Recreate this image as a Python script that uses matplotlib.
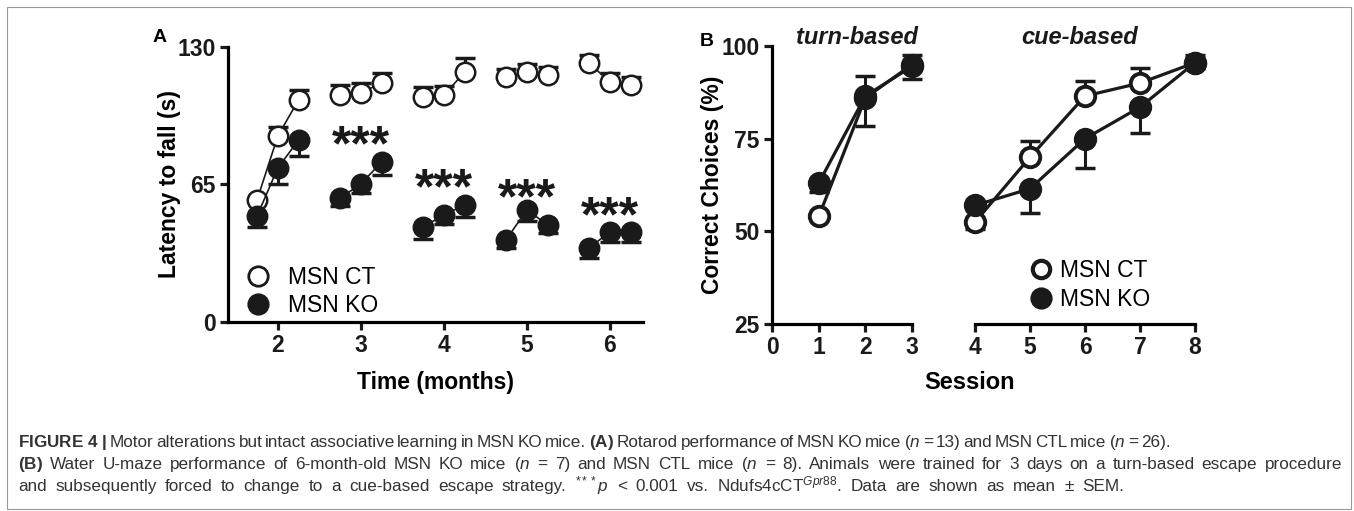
import numpy as np
import matplotlib
matplotlib.use('Agg')
import matplotlib.pyplot as plt
from matplotlib.lines import Line2D

plt.rcParams['font.family'] = ['Liberation Sans', 'DejaVu Sans']
plt.rcParams['mathtext.fontset'] = 'custom'
plt.rcParams['mathtext.rm'] = 'Liberation Sans'
plt.rcParams['mathtext.bf'] = 'Liberation Sans:bold'
plt.rcParams['mathtext.it'] = 'Liberation Sans:italic'

# panel A: rotarod, three trials per month
months = [2, 3, 4, 5, 6]
ct_lat = [[57.7, 87.9, 105], [107.3, 108.3, 113], [106.4, 107.3, 118],
          [115.8, 118, 116.8], [122.4, 113.5, 112]]
ct_err = [[1, 4.4, 4.7], [4.7, 4.7, 4.7], [4.5, 4.5, 7],
          [3.8, 3.8, 3.8], [4, 4, 4]]
ko_lat = [[50.1, 72.8, 86], [58.6, 65.2, 75.6], [44.9, 50.6, 55.3],
          [38.8, 53, 45.9], [35, 42.5, 42.5]]
ko_err = [[5, 7.4, 7.5], [4, 4.4, 6.3], [5.5, 4.5, 5.5],
          [4, 5.5, 4], [4.7, 4.7, 4.7]]
star_y = [None, 87.5, 67, 62.4, 54]
trial_offset = [-0.25, 0, 0.25]

# panel B: water U-maze
turn_sess = [1, 2, 3]
ct_turn = [54, 86, 95]
ct_turn_err = [1, 6, 2.5]
ko_turn = [63, 86.5, 94.5]
ko_turn_err = [2.5, 8, 3.5]
cue_sess = [4, 5, 6, 7, 8]
ct_cue = [52.5, 70, 86.5, 90, 95.5]
ct_cue_err = [1, 4.5, 4, 4, 2]
ko_cue = [57, 61.5, 75, 83.5, 95.5]
ko_cue_err = [6.5, 6.5, 8, 7, 1.5]

K = '#1a1a1a'
SP = 2.3
FS = 16.5
W, H = 1354, 511

fig = plt.figure(figsize=(W / 100, H / 100), dpi=100)


def style_axes(ax, left=True):
    for s in ['top', 'right']:
        ax.spines[s].set_visible(False)
    ax.spines['bottom'].set_linewidth(SP)
    ax.spines['left'].set_linewidth(SP)
    ax.spines['left'].set_visible(left)
    ax.tick_params(width=SP, length=6, labelsize=FS, colors=K, pad=3)
    for lab in ax.get_xticklabels() + ax.get_yticklabels():
        lab.set_fontweight('bold')


def draw(ax, x, y, err, open_marker, lw, ms, mew):
    x = np.asarray(x, float)
    y = np.asarray(y, float)
    e = np.asarray(err, float)
    z = np.zeros_like(e)
    yerr = [z, e] if open_marker else [e, z]
    ax.errorbar(x, y, yerr=yerr, fmt='none', ecolor=K, elinewidth=2.2,
                capsize=7, capthick=2.5, clip_on=False, zorder=2)
    ax.plot(x, y, color=K, lw=lw, marker='o', ms=ms, mew=mew, mec=K,
            mfc='white' if open_marker else K, clip_on=False,
            zorder=3 if open_marker else 4)


# ---- panel A
axA = fig.add_axes([0.1684, 0.370, 0.3065, 0.538])
for i, m in enumerate(months):
    xs = [m + o for o in trial_offset]
    draw(axA, xs, ct_lat[i], ct_err[i], True, 1.2, 14, 1.8)
    draw(axA, xs, ko_lat[i], ko_err[i], False, 1.2, 14, 1.8)
    if star_y[i] is not None:
        axA.annotate('***', (m, star_y[i]), xytext=(0, -7.5), textcoords='offset points',
                     ha='center', va='center', fontsize=36, fontweight='bold', color=K)
axA.set_xlim(1.4, 6.4)
axA.set_ylim(0, 130)
axA.set_xticks(months)
axA.set_yticks([0, 65, 130])
style_axes(axA)
axA.set_xlabel('Time (months)', fontsize=FS, fontweight='bold', labelpad=9.5)
axA.set_ylabel('Latency to fall (s)', fontsize=FS, fontweight='bold', labelpad=-3)
hA = [Line2D([], [], ls='none', marker='o', ms=14, mew=2, mec=K, mfc='white'),
      Line2D([], [], ls='none', marker='o', ms=14, mew=2, mec=K, mfc=K)]
axA.legend(hA, ['MSN CT', 'MSN KO'], loc='lower left', bbox_to_anchor=(-0.004, -0.058),
           frameon=False, fontsize=FS, handletextpad=0.8, labelspacing=0.25,
           handlelength=1.0)

# ---- panel B, broken axis
axB1 = fig.add_axes([0.5702, 0.366, 0.1034, 0.544])
axB2 = fig.add_axes([0.7201, 0.366, 0.1625, 0.544])
draw(axB1, turn_sess, ct_turn, ct_turn_err, True, 2.3, 14, 2.8)
draw(axB1, turn_sess, ko_turn, ko_turn_err, False, 2.3, 14, 2.8)
draw(axB2, cue_sess, ct_cue, ct_cue_err, True, 2.3, 14, 2.8)
draw(axB2, cue_sess, ko_cue, ko_cue_err, False, 2.3, 14, 2.8)
axB1.set_xlim(0, 3)
axB1.set_xticks([0, 1, 2, 3])
axB2.set_xlim(4, 8)
axB2.set_xticks(cue_sess)
for ax in (axB1, axB2):
    ax.set_ylim(25, 100)
axB1.set_yticks([25, 50, 75, 100])
axB2.set_yticks([])
style_axes(axB1)
style_axes(axB2, left=False)
axB1.set_ylabel('Correct Choices (%)', fontsize=FS, fontweight='bold', labelpad=-2)
fig.text(857 / W, 1 - 44 / H, 'turn-based', fontsize=17, fontweight='bold',
         style='italic', ha='center', va='baseline', color=K)
fig.text(1080 / W, 1 - 44 / H, 'cue-based', fontsize=17, fontweight='bold',
         style='italic', ha='center', va='baseline', color=K)
fig.text(0.716, 0.252, 'Session', fontsize=FS + 0.5, fontweight='bold', ha='center', va='center')
hB = [Line2D([], [], ls='none', marker='o', ms=12.5, mew=3, mec=K, mfc='white'),
      Line2D([], [], ls='none', marker='o', ms=14, mew=2, mec=K, mfc=K)]
axB2.legend(hB, ['MSN CT', 'MSN KO'], loc='lower left', bbox_to_anchor=(0.156, -0.029),
            frameon=False, fontsize=FS, handletextpad=0.3, labelspacing=0.3,
            handlelength=1.0)

fig.text(0.113, 0.918, 'A', fontsize=14, fontweight='bold')
fig.text(0.517, 0.910, 'B', fontsize=14, fontweight='bold')


# ---- caption
def b(s):
    return r'$\mathbf{' + s.replace(' ', r'\ ') + '}$'


def it(s):
    return r'$\mathit{' + s + '}$'


n_ = '(' + it('n')
cap1 = ([b('FIGURE 4 |')]
        + 'Motor alterations but intact associative learning in MSN KO mice.'.split()
        + [b('(A)')] + 'Rotarod performance of MSN KO mice'.split()
        + [n_, '=', '13)', 'and', 'MSN', 'CTL', 'mice', n_, '=', '26).'])
cap2 = ([b('(B)')] + 'Water U-maze performance of 6-month-old MSN KO mice'.split()
        + [n_, '=', '7)', 'and', 'MSN', 'CTL', 'mice', n_, '=', '8).']
        + 'Animals were trained for 3 days on a turn-based escape procedure'.split())
cap3 = ('and subsequently forced to change to a cue-based escape strategy.'.split()
        + [r'$^{***}$' + it('p'), '<', '0.001', 'vs.', r'Ndufs4cCT$^{\mathit{Gpr88}}$.']
        + 'Data are shown as mean \u00b1 SEM.'.split())

CFS = 12.3
renderer = fig.canvas.get_renderer()


def caption_line(tokens, baseline, x0, x1):
    arts = [fig.text(x0 / W, 1 - baseline / H, t, fontsize=CFS, color='#333333',
                     va='baseline') for t in tokens]
    widths = [a.get_window_extent(renderer).width for a in arts]
    gap = (x1 - x0 - sum(widths)) / (len(arts) - 1)
    x = x0
    for a, w in zip(arts, widths):
        a.set_x(x / W)
        x += w + gap


caption_line(cap1, 447, 18, 1171)
caption_line(cap2, 469, 18, 1342)
caption_line(cap3, 491, 18, 1124)

fig.add_artist(plt.Rectangle((0.0055, 0.004), 0.9925, 0.983, transform=fig.transFigure,
                             fill=False, ec='#999999', lw=0.8))

fig.savefig('out.png', dpi=100)
